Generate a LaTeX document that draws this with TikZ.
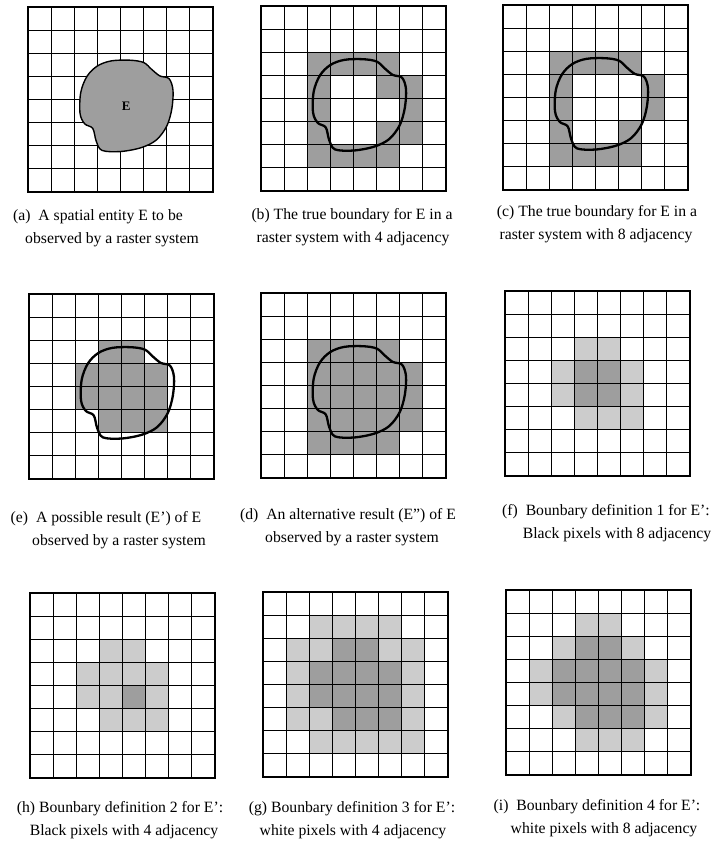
\documentclass[tikz,border=0pt]{standalone}
\usepackage{fontspec}
\setmainfont{Liberation Serif}

% raster of 8 x 8 cells, drawn in cell units
\newcommand{\rastergrid}{%
  \foreach \i in {1,...,7} {
    \draw[gridline] (\i,0) -- (\i,8);
    \draw[gridline] (0,\i) -- (8,\i);
  }
  \draw[frameline] (0,0) rectangle (8,8);
}
\newcommand{\shadecells}[2]{%
  \edef\celllist{#2}%
  \foreach \c/\r in \celllist \fill[#1] (\c,\r) rectangle ++(1,1);
}
\newcommand{\drawblob}[1]{%
  \draw[#1] plot[smooth cycle, tension=0.55] coordinates {
    (3.0,2.55) (3.6,2.33) (4.4,2.3) (5.0,2.4) (5.35,2.7) (5.7,2.98)
    (6.1,3.1) (6.27,3.6) (6.22,4.4) (6.0,5.15) (5.55,5.75) (4.9,6.08)
    (4.0,6.25) (3.2,6.2) (2.95,5.8) (2.8,5.25) (2.45,5.05) (2.25,4.6)
    (2.28,3.7) (2.55,3.0)};
}
\newcommand{\Eprime}{3/2,4/2, 2/3,3/3,4/3,5/3, 2/4,3/4,4/4,5/4, 3/5,4/5,5/5}

\begin{document}
\begin{tikzpicture}[x=1pt, y=-1pt,
    gridline/.style={line width=0.9pt},
    frameline/.style={line width=1.4pt},
    darkpix/.style={fill=black!38},
    lightpix/.style={fill=black!20},
    outline/.style={line width=2.3pt, line join=round},
    captext/.style={font=\fontsize{15.7}{19}\selectfont, inner sep=0pt, anchor=base}]
  \useasboundingbox (0,0) rectangle (714,857);

  % (a)
  \begin{scope}[shift={(28,7)}, x=23.125pt, y=-23.125pt]
    \rastergrid
    \drawblob{fill=black!38, line width=1.4pt}
    \node[font=\fontsize{13}{13}\selectfont\bfseries] (labE) at (4.25,4.3) {E};
  \end{scope}
  \node[captext] (capa1) at (98,220) {(a)~ A spatial entity E to be};
  \node[captext] (capa2) at (112,243) {observed by a raster system};

  % (b)
  \begin{scope}[shift={(261,6)}, x=23.125pt, y=-23.125pt]
    \shadecells{darkpix}{2/2,3/2,4/2,5/2, 2/3,5/3,6/3, 2/4,6/4, 2/5,5/5,6/5, 2/6,3/6,4/6,5/6}
    \rastergrid
    \drawblob{outline}
  \end{scope}
  \node[captext] (capb1) at (352,219) {(b) The true boundary for E in a};
  \node[captext] (capb2) at (353,242) {raster system with 4 adjacency};

  % (c)
  \begin{scope}[shift={(503,5)}, x=23.125pt, y=-23.125pt]
    \shadecells{darkpix}{2/2,3/2,4/2,5/2, 2/3,6/3, 2/4,6/4, 2/5,5/5, 2/6,3/6,4/6,5/6}
    \rastergrid
    \drawblob{outline}
  \end{scope}
  \node[captext] (capc1) at (597,216) {(c) The true boundary for E in a};
  \node[captext] (capc2) at (596,239) {raster system with 8 adjacency};

  % (e)
  \begin{scope}[shift={(29,294)}, x=23.125pt, y=-23.125pt]
    \shadecells{darkpix}{\Eprime}
    \rastergrid
    \drawblob{outline}
  \end{scope}
  \node[captext] (cape1) at (106,522) {(e)~ A possible result (E') of E};
  \node[captext] (cape2) at (119,545) {observed by a raster system};

  % (d)
  \begin{scope}[shift={(261,293)}, x=23.125pt, y=-23.125pt]
    \shadecells{darkpix}{2/2,3/2,4/2,5/2, 2/3,3/3,4/3,5/3,6/3, 2/4,3/4,4/4,5/4,6/4,
      2/5,3/5,4/5,5/5,6/5, 2/6,3/6,4/6,5/6}
    \rastergrid
    \drawblob{outline}
  \end{scope}
  \node[captext] (capd1) at (348,519) {(d)~ An alternative result (E") of E};
  \node[captext] (capd2) at (352,542) {observed by a raster system};

  % (f)
  \begin{scope}[shift={(505,291)}, x=23.125pt, y=-23.125pt]
    \shadecells{lightpix}{\Eprime}
    \shadecells{darkpix}{3/3,4/3,3/4,4/4}
    \rastergrid
  \end{scope}
  \node[captext] (capf1) at (606,515) {(f)~ Bounbary definition 1 for E':};
  \node[captext] (capf2) at (617,538) {Black pixels with 8 adjacency};

  % (h)
  \begin{scope}[shift={(30,593)}, x=23.125pt, y=-23.125pt]
    \shadecells{lightpix}{\Eprime}
    \shadecells{darkpix}{4/4}
    \rastergrid
  \end{scope}
  \node[captext] (caph1) at (120,812) {(h) Bounbary definition 2 for E':};
  \node[captext] (caph2) at (124,835) {Black pixels with 4 adjacency};

  % (g)
  \begin{scope}[shift={(263,592)}, x=23.125pt, y=-23.125pt]
    \shadecells{lightpix}{2/1,3/1,4/1,5/1, 1/2,2/2,5/2,6/2, 1/3,6/3, 1/4,6/4,
      1/5,2/5,6/5, 2/6,3/6,4/6,5/6,6/6}
    \shadecells{darkpix}{\Eprime}
    \rastergrid
  \end{scope}
  \node[captext] (capg1) at (352,812) {(g) Bounbary definition 3 for E':};
  \node[captext] (capg2) at (353,835) {white pixels with 4 adjacency};

  % (i)
  \begin{scope}[shift={(506,590)}, x=23.125pt, y=-23.125pt]
    \shadecells{lightpix}{3/1,4/1, 2/2,5/2, 1/3,6/3, 1/4,6/4, 2/5,6/5, 3/6,4/6,5/6}
    \shadecells{darkpix}{\Eprime}
    \rastergrid
  \end{scope}
  \node[captext] (capi1) at (597,810) {(i)~ Bounbary definition 4 for E':};
  \node[captext] (capi2) at (604,833) {white pixels with 8 adjacency};
\end{tikzpicture}
\end{document}
